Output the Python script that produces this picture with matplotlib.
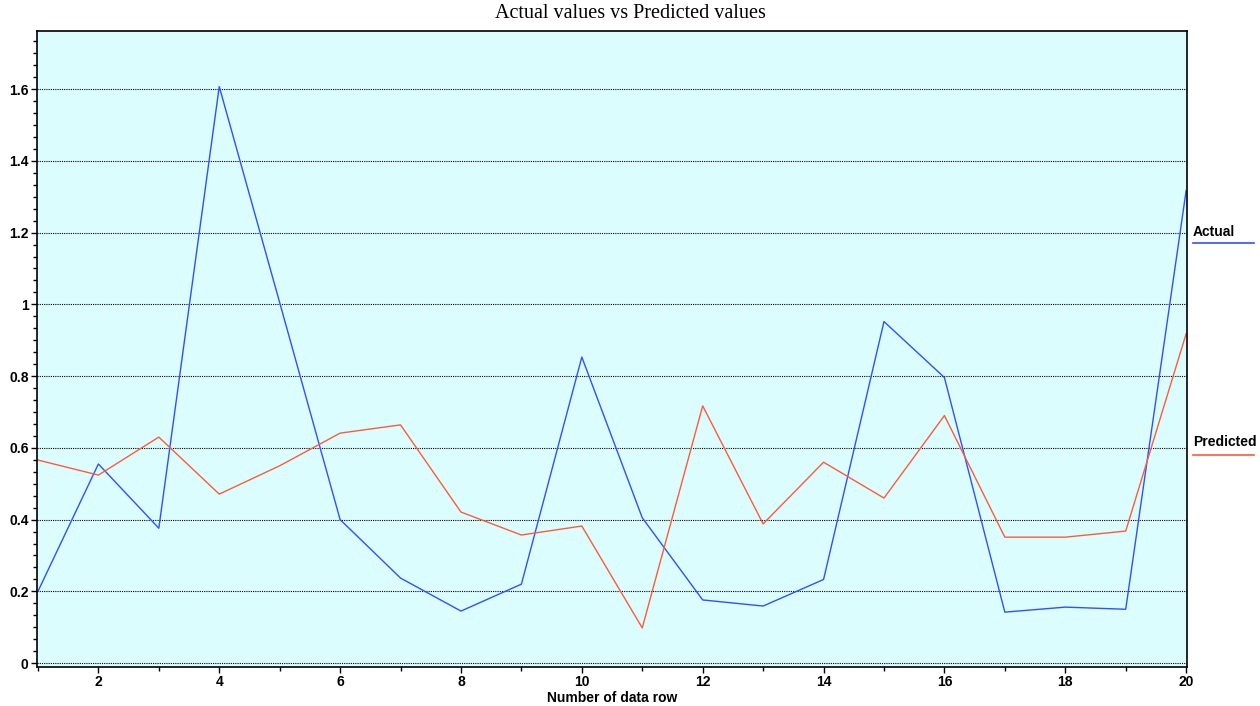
import numpy as np
from matplotlib import pyplot as plt
from matplotlib.ticker import MultipleLocator, AutoMinorLocator

# values
rows = list(range(1, 21))
actual = [0.20, 0.555, 0.376, 1.607, 1.005, 0.400, 0.237, 0.145, 0.220, 0.853,
          0.405, 0.176, 0.159, 0.233, 0.952, 0.796, 0.142, 0.156, 0.150, 1.317]
predicted = [0.566, 0.524, 0.630, 0.471, 0.550, 0.641, 0.664, 0.421, 0.357, 0.382,
             0.098, 0.717, 0.388, 0.560, 0.460, 0.690, 0.351, 0.351, 0.368, 0.918]

blue = '#3050ff'
red = '#ff5a3c'

fig = plt.figure(figsize=(12.6, 7.06), dpi=100)
ax = fig.add_axes([0.0294, 0.0552, 0.9127, 0.9009])
ax.set_facecolor('#dcfdfd')

ax.plot(rows, actual, color=blue, lw=1.0)
ax.plot(rows, predicted, color=red, lw=1.0)

ax.set_xlim(0.985, 20.015)
ax.set_ylim(-0.011, 1.762)

ax.yaxis.set_major_locator(MultipleLocator(0.2))
ax.yaxis.set_minor_locator(AutoMinorLocator(6))
ax.xaxis.set_major_locator(MultipleLocator(2))
ax.xaxis.set_minor_locator(MultipleLocator(1))
ax.set_yticks(np.arange(0, 1.61, 0.2))
ax.set_yticklabels(['0', '0.2', '0.4', '0.6', '0.8', '1', '1.2', '1.4', '1.6'])

ax.grid(axis='y', which='major', color='black', linestyle=(0, (1, 1)), lw=0.8)
ax.tick_params(axis='both', which='major', direction='out', length=4, width=1,
               labelsize=10, pad=2)
ax.tick_params(axis='both', which='minor', direction='out', length=3, width=1)
for lab in ax.get_xticklabels() + ax.get_yticklabels():
    lab.set_fontweight('bold')
    lab.set_family('Liberation Sans')

for sp in ax.spines.values():
    sp.set_linewidth(1.2)
    sp.set_color('black')

ax.set_xlabel('Number of data row', fontsize=10, fontweight='bold',
              family='Liberation Sans', labelpad=1)
fig.suptitle('Actual values vs Predicted values', y=0.995, fontsize=14.5,
             family='Liberation Serif')

# legend drawn at the right edge, label over a short line
fig.text(1193 / 1260, 1 - 232 / 706, 'Actual', fontsize=10, fontweight='bold',
         family='Liberation Sans', va='center', ha='left')
fig.add_artist(plt.Line2D([1193 / 1260, 1254 / 1260], [1 - 243 / 706] * 2,
                          color=blue, lw=1.2))
fig.text(1193 / 1260, 1 - 442 / 706, 'Predicted', fontsize=10, fontweight='bold',
         family='Liberation Sans', va='center', ha='left')
fig.add_artist(plt.Line2D([1193 / 1260, 1254 / 1260], [1 - 455 / 706] * 2,
                          color=red, lw=1.2))

plt.savefig('out.png', dpi=100)
